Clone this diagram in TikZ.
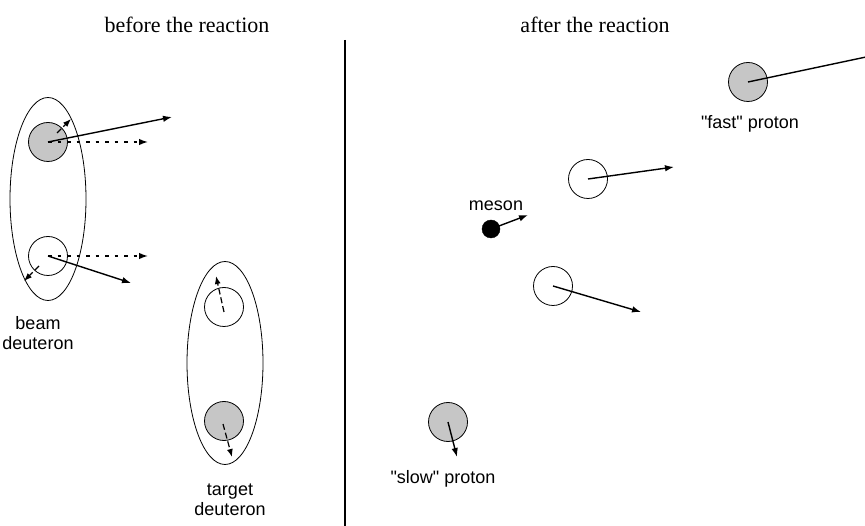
\documentclass[tikz,border=0pt]{standalone}
\usepackage{fontspec}
\setmainfont{Liberation Serif}
\setsansfont{Liberation Sans}
\usetikzlibrary{arrows.meta,shapes.geometric}
\begin{document}
\begin{tikzpicture}[x=1pt,y=-1pt,
  lbl/.style={font=\sffamily\fontsize{18}{20.5}\selectfont, align=center, inner sep=0pt},
  ttl/.style={font=\rmfamily\fontsize{22}{24}\selectfont, inner sep=0pt},
  part/.style={circle, draw, line width=0.8pt, minimum size=39pt, inner sep=0pt},
  prot/.style={part, fill=gray!45},
  neut/.style={part, fill=white},
  nucl/.style={ellipse, draw, line width=0.8pt, minimum width=76pt, minimum height=203pt, inner sep=0pt},
  mom/.style={line width=1.4pt, -{Latex[length=9pt,width=6.5pt]}},
  beamdir/.style={line width=1.4pt, dash pattern=on 3.5pt off 6pt, -{Latex[length=9pt,width=6.5pt]}},
  fermi/.style={line width=1.2pt, dash pattern=on 6pt off 3pt, -{Latex[length=8pt,width=6pt]}},
]
\useasboundingbox (0,0) rectangle (865,526);

% titles and divider
\node[ttl] (tbefore) at (187,25) {before the reaction};
\node[ttl] (tafter) at (595,25) {after the reaction};
\coordinate (divtop) at (345,40);
\coordinate (divbot) at (345,526);
\draw[line width=2.6pt] (divtop) -- (divbot);

% beam deuteron
\node[nucl] (beam) at (48,199) {};
\node[prot] (bp) at (48,142) {};
\node[neut] (bn) at (48,256) {};
\coordinate (bpout) at (172,117);
\coordinate (bpdir) at (148,142);
\coordinate (bnout) at (131,283);
\coordinate (bndir) at (148,256);
\coordinate (bpf0) at (57,133);
\coordinate (bpf1) at (71,119);
\coordinate (bnf0) at (39,266);
\coordinate (bnf1) at (24,281);
\draw[beamdir] (bp.center) -- (bpdir);
\draw[beamdir] (bn.center) -- (bndir);
\draw[mom] (bp.center) -- (bpout);
\draw[mom] (bn.center) -- (bnout);
\draw[fermi] (bpf0) -- (bpf1);
\draw[fermi] (bnf0) -- (bnf1);
\node[lbl] (beamlbl) at (38,333) {beam\\deuteron};

% target deuteron
\node[nucl] (targ) at (225,363) {};
\node[neut] (tn) at (224,307) {};
\node[prot] (tp) at (224,421) {};
\coordinate (tnf0) at (224,312);
\coordinate (tnf1) at (216,276);
\coordinate (tpf0) at (223,424);
\coordinate (tpf1) at (232,457);
\draw[fermi] (tnf0) -- (tnf1);
\draw[fermi] (tpf0) -- (tpf1);
\node[lbl] (targlbl) at (230,500) {target\\deuteron};

% after the reaction
\node[prot] (fp) at (748,82) {};
\coordinate (fpout) at (866,57);
\draw[line width=1.4pt] (fp.center) -- (fpout);
\node[lbl] (fplbl) at (750,124) {\textquotedbl fast\textquotedbl\ proton};

\node[neut] (n1) at (588,179) {};
\coordinate (n1out) at (674,167);
\draw[mom] (n1.center) -- (n1out);

\node[circle, fill=black, draw, minimum size=18pt, inner sep=0pt] (mes) at (491,229) {};
\coordinate (mesout) at (528,215);
\draw[mom] (mes.center) -- (mesout);
\node[lbl] (meslbl) at (496,206) {meson};

\node[neut] (n2) at (553,286) {};
\coordinate (n2out) at (641,312);
\draw[mom] (n2.center) -- (n2out);

\node[prot] (sp) at (448,422) {};
\coordinate (spout) at (457,457);
\draw[mom] (sp.center) -- (spout);
\node[lbl] (splbl) at (443,479) {\textquotedbl slow\textquotedbl\ proton};
\end{tikzpicture}
\end{document}
